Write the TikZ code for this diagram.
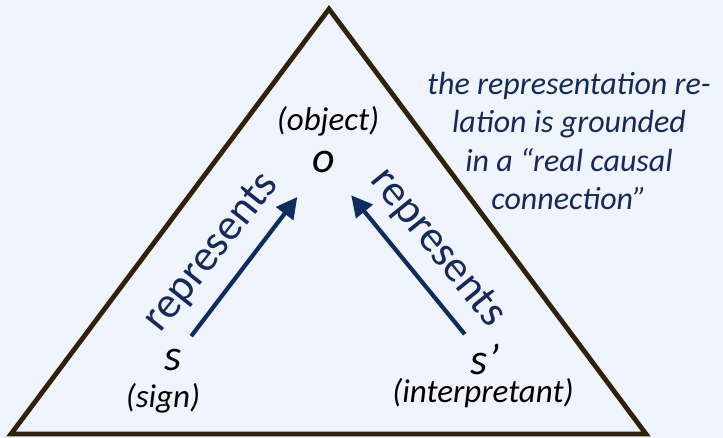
\documentclass[tikz,border=0pt]{standalone}
\usepackage{fontspec}
\setmainfont{Carlito}
\usepackage{xcolor}
\usetikzlibrary{arrows.meta,positioning,calc}
\definecolor{smback}{RGB}{239,244,252}
\definecolor{smbrown}{RGB}{48,34,10}
\definecolor{smnavy}{RGB}{14,44,92}
\definecolor{smink}{RGB}{22,42,88}
\tikzset{
smtri/.style={draw=smbrown,line width=4.8bp,line join=miter},
smsym/.style={font=\fontsize{44bp}{44bp}\selectfont\itshape,inner sep=0pt},
smrole/.style={font=\fontsize{33bp}{33bp}\selectfont\itshape,inner sep=0pt},
smverb/.style={font=\fontsize{44bp}{44bp}\selectfont,text=smink,inner sep=0pt},
smnote/.style={font=\fontsize{32bp}{38.5bp}\selectfont\itshape,text=smink,align=center,inner sep=0pt},
smarr/.style={-{Triangle[length=21bp,width=21bp]},draw=smnavy,line width=4.2bp}
}
\begin{document}
\begin{tikzpicture}[
x=1bp,
y=-1bp
]
\fill[smback] (0,0) rectangle (723,438);
\useasboundingbox (0,0) rectangle (723,438);
\coordinate (apex) at (329,9);
\coordinate (left) at (11,434);
\coordinate (right) at (646,434);
\draw[smtri] (apex) -- (left) -- (right) -- cycle;
\node[smsym] (o) at (324,162) {o};
\node[smrole] (object) at (328,121) {(object)};
\node[smsym] (s) at (173,360) {s};
\node[smrole] (sign) at (163,398) {(sign)};
\node[smsym] (sp) at (485,359) {s’};
\node[smrole] (interp) at (483,393) {(interpretant)};
\draw[smarr,shorten <=30bp,shorten >=44bp] (s.center) -- (o.center);
\draw[smarr,shorten <=32bp,shorten >=43bp] (sp.center) -- (o.center);
\node[smverb,rotate=51.5] (repl) at (212,253) {represents};
\node[smverb,rotate=-51] (repr) at (437,248) {represents};
\node[smnote] (note) at (569,141) {the representation re-\\lation is grounded\\in a “real causal\\connection”};
\end{tikzpicture}
\end{document}
